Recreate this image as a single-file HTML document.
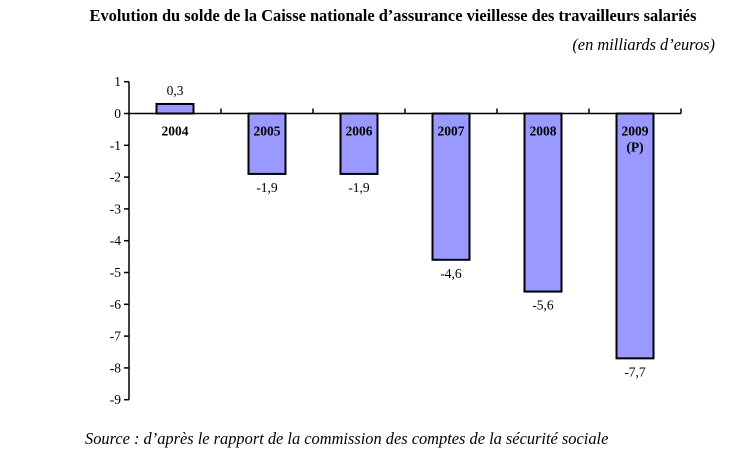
<!DOCTYPE html>
<html><head><meta charset="utf-8"><style>
body{margin:0;background:#fff;}
svg{display:block;font-family:"Liberation Serif",serif;}
</style></head><body>
<svg id="c" width="750" height="458" xmlns="http://www.w3.org/2000/svg">
<text x="393" y="21" text-anchor="middle" font-size="16.4" font-weight="bold">Evolution du solde de la Caisse nationale d’assurance vieillesse des travailleurs salariés</text>
<text x="715" y="50" text-anchor="end" font-size="16.4" font-style="italic">(en milliards d’euros)</text>
<text x="85" y="444" font-size="16.4" font-style="italic">Source : d’après le rapport de la commission des comptes de la sécurité sociale</text>
<g id="plot"></g>
</svg>
<script>
const categories=["2004","2005","2006","2007","2008","2009"];
const catSub=["","","","","","(P)"];
const values=[0.3,-1.9,-1.9,-4.6,-5.6,-7.7];
const valueLabels=["0,3","-1,9","-1,9","-4,6","-5,6","-7,7"];
const yTicks=[1,0,-1,-2,-3,-4,-5,-6,-7,-8,-9];
const NS="http://www.w3.org/2000/svg";
const g=document.getElementById('plot');
const x0=129,x1=681,bw=37;
const y=v=>113.5-(v)*31.8;
const step=(x1-x0)/categories.length;
const cx=i=>x0+step*(i+0.5);
function mk(t,a){const e=document.createElementNS(NS,t);for(const k in a)e.setAttribute(k,a[k]);g.appendChild(e);return e;}
values.forEach((v,i)=>{
 const r=mk('rect',{x:cx(i)-bw/2,y:Math.min(y(v),y(0)),width:bw,height:Math.abs(y(v)-y(0)),fill:'#9999ff',stroke:'#000','stroke-width':2});
 
 
 const ly=v>=0?y(v)-9:y(v)+18;
 const t=mk('text',{x:cx(i),y:ly,'text-anchor':'middle','font-size':13.5});
 t.textContent=valueLabels[i];
 
 
 const c=mk('text',{x:cx(i),y:y(0)+22,'text-anchor':'middle','font-size':13.5,'font-weight':'bold'});
 c.textContent=categories[i];
 
 
 if(catSub[i]){const s=mk('text',{x:cx(i),y:y(0)+38,'text-anchor':'middle','font-size':13.5,'font-weight':'bold'});s.textContent=catSub[i];
 
 }
});
const ya=mk('line',{x1:x0,y1:y(yTicks[0]),x2:x0,y2:y(yTicks[yTicks.length-1]),stroke:'#000','stroke-width':1.5});


yTicks.forEach(v=>{
 mk('line',{x1:x0-5,y1:y(v),x2:x0,y2:y(v),stroke:'#000','stroke-width':1.5});
 const t=mk('text',{x:x0-8,y:y(v)+4.5,'text-anchor':'end','font-size':13.5});
 t.textContent=String(v);
 
 
});
const xa=mk('line',{x1:x0,y1:y(0),x2:x1,y2:y(0),stroke:'#000','stroke-width':1.5});


for(let i=1;i<=categories.length;i++){mk('line',{x1:x0+step*i,y1:y(0)-5,x2:x0+step*i,y2:y(0),stroke:'#000','stroke-width':1.5});}
</script>
</body></html>
